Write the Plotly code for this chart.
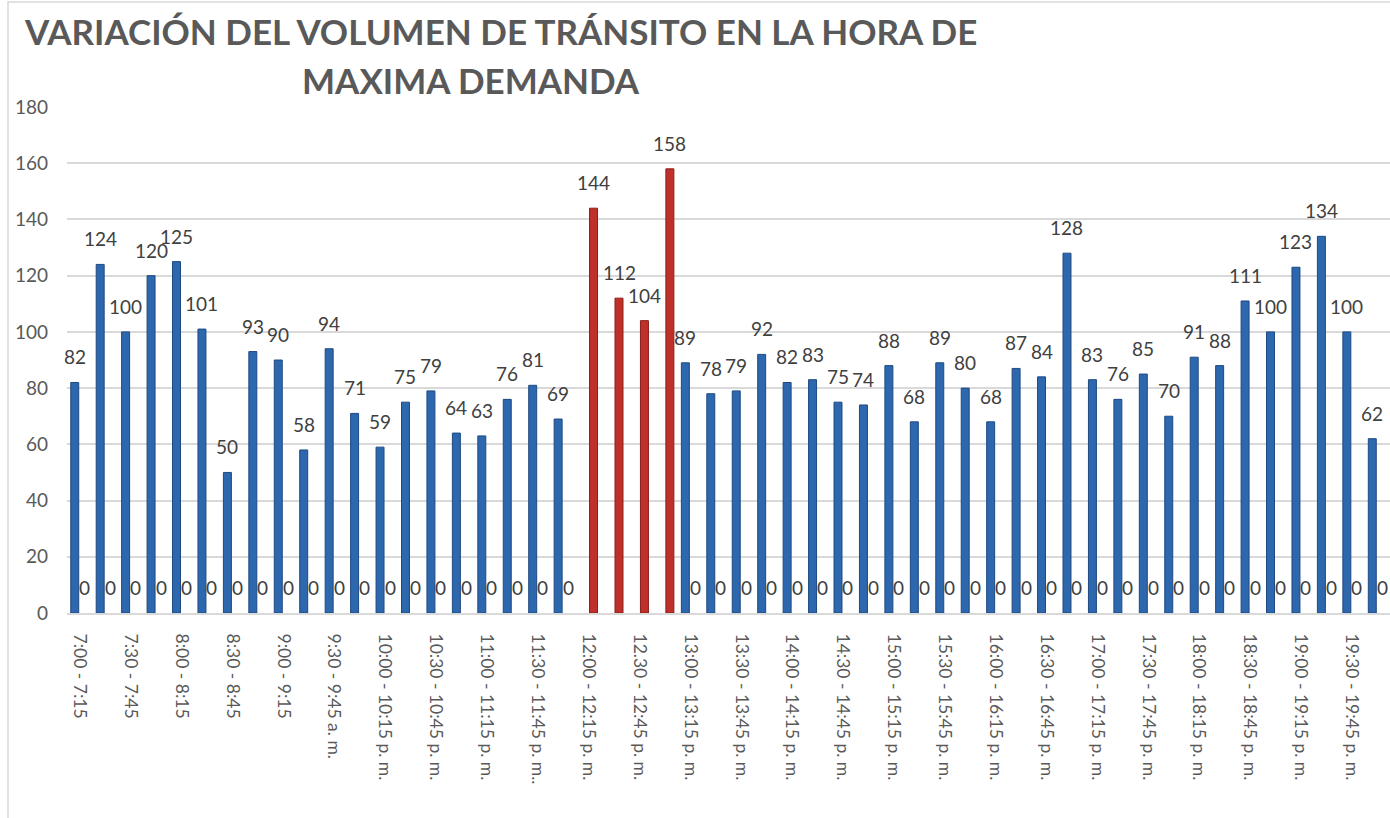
import plotly.graph_objects as go

categories = [
    "7:00 - 7:15", "7:15 - 7:30", "7:30 - 7:45", "7:45 - 8:00",
    "8:00 - 8:15", "8:15 - 8:30", "8:30 - 8:45", "8:45 - 9:00",
    "9:00 - 9:15", "9:15 - 9:30", "9:30 - 9:45 a. m.", "9:45 - 10:00 a. m.",
    "10:00 - 10:15 p. m.", "10:15 - 10:30 p. m.", "10:30 - 10:45 p. m.", "10:45 - 11:00 p. m.",
    "11:00 - 11:15 p. m.", "11:15 - 11:30 p. m.", "11:30 - 11:45 p. m..", "11:45 - 12:00 p. m.",
    "12:00 - 12:15 p. m.", "12:15 - 12:30 p. m.", "12.30 - 12:45 p. m.", "12:45 - 13:00 p. m.",
    "13:00 - 13:15 p. m.", "13:15 - 13:30 p. m.", "13:30 - 13:45 p. m.", "13:45 - 14:00 p. m.",
    "14:00 - 14:15 p. m.", "14:15 - 14:30 p. m.", "14:30 - 14:45 p. m.", "14:45 - 15:00 p. m.",
    "15:00 - 15:15 p. m.", "15:15 - 15:30 p. m.", "15:30 - 15:45 p. m.", "15:45 - 16:00 p. m.",
    "16:00 - 16:15 p. m.", "16:15 - 16:30 p. m.", "16:30 - 16:45 p. m.", "16:45 - 17:00 p. m.",
    "17:00 - 17:15 p. m.", "17:15 - 17:30 p. m.", "17:30 - 17:45 p. m.", "17:45 - 18:00 p. m.",
    "18:00 - 18:15 p. m.", "18:15 - 18:30 p. m.", "18:30 - 18:45 p. m.", "18:45 - 19:00 p. m.",
    "19:00 - 19:15 p. m.", "19:15 - 19:30 p. m.", "19:30 - 19:45 p. m.", "19:45 - 20:00 p. m.",
]

# Regular intervals (blue series); None where the peak-hour series applies
volumen = [
    82, 124, 100, 120, 125, 101, 50, 93, 90, 58,
    94, 71, 59, 75, 79, 64, 63, 76, 81, 69,
    None, None, None, None, 89, 78, 79, 92, 82, 83,
    75, 74, 88, 68, 89, 80, 68, 87, 84, 128,
    83, 76, 85, 70, 91, 88, 111, 100, 123, 134,
    100, 62,
]

# Peak-hour series (red); 0 elsewhere
hora_maxima = [
    0, 0, 0, 0, 0, 0, 0, 0, 0, 0,
    0, 0, 0, 0, 0, 0, 0, 0, 0, 0,
    144, 112, 104, 158, 0, 0, 0, 0, 0, 0,
    0, 0, 0, 0, 0, 0, 0, 0, 0, 0,
    0, 0, 0, 0, 0, 0, 0, 0, 0, 0,
    0, 0,
]

tick_categories = categories[::2]
tick_labels = [
    "7:00 - 7:15", "7:30 - 7:45", "8:00 - 8:15", "8:30 - 8:45", "9:00 - 9:15",
    "9:30 - 9:45 a. m.", "10:00 - 10:15 p. m.", "10:30 - 10:45 p. m.", "11:00 - 11:15 p. m.",
    "11:30 - 11:45 p. m..", "12:00 - 12:15 p. m.", "12.30 - 12:45 p. m.", "13:00 - 13:15 p. m.",
    "13:30 - 13:45 p. m.", "14:00 - 14:15 p. m.", "14:30 - 14:45 p. m.", "15:00 - 15:15 p. m.",
    "15:30 - 15:45 p. m.", "16:00 - 16:15 p. m.", "16:30 - 16:45 p. m.", "17:00 - 17:15 p. m.",
    "17:30 - 17:45 p. m.", "18:00 - 18:15 p. m.", "18:30 - 18:45 p. m.", "19:00 - 19:15 p. m.",
    "19:30 - 19:45 p. m.",
]

title_line1 = "VARIACIÓN DEL VOLUMEN DE TRÁNSITO EN LA HORA DE"
title_line2 = "MAXIMA DEMANDA"

BLUE = "#2D67AE"
BLUE_EDGE = "#1E4A82"
RED = "#C0302B"
RED_EDGE = "#8A1E1A"
TEXT = "#404040"
AXIS_TEXT = "#595959"
GRID = "#D9D9D9"
FONT = "Lato, 'Open Sans', sans-serif"

fig = go.Figure()
fig.add_trace(go.Bar(
    x=categories, y=volumen, name="Volumen",
    marker=dict(color=BLUE, line=dict(color=BLUE_EDGE, width=1)),
    hoverinfo="x+y",
))
fig.add_trace(go.Bar(
    x=categories, y=hora_maxima, name="Hora de máxima demanda",
    marker=dict(color=RED, line=dict(color=RED_EDGE, width=[1 if v else 0 for v in hora_maxima])),
    hoverinfo="x+y",
))

annotations = []
for c, v in zip(categories, volumen):
    if v is not None:
        annotations.append(dict(x=c, y=v, xref="x", yref="y", text=str(v), showarrow=False,
                                xanchor="center", yanchor="bottom", xshift=-5, yshift=12,
                                font=dict(family=FONT, size=19, color=TEXT)))
for c, v in zip(categories, hora_maxima):
    if v is not None:
        annotations.append(dict(x=c, y=v, xref="x", yref="y", text=str(v), showarrow=False,
                                xanchor="center", yanchor="bottom", xshift=5, yshift=12,
                                font=dict(family=FONT, size=19, color=TEXT)))

W, H = 1390, 818
L, R, T, B = 67, 0, 107, 205
pw, ph = W - L - R, H - T - B

# Title lines (pixel centres converted to paper coordinates)
for txt, cx, cy in [(title_line1, 500, 31), (title_line2, 471, 80)]:
    annotations.append(dict(x=(cx - L) / pw, y=(H - B - cy) / ph, xref="paper", yref="paper",
                            text=txt, showarrow=False, xanchor="center", yanchor="middle",
                            font=dict(family=FONT, size=35, color=AXIS_TEXT, weight="bold")))

fig.update_layout(
    width=W, height=H,
    margin=dict(l=L, r=R, t=T, b=B, pad=0),
    paper_bgcolor="white", plot_bgcolor="white",
    barmode="group", bargap=0.216, bargroupgap=0.2,
    showlegend=False,
    annotations=annotations,
    font=dict(family=FONT, color=AXIS_TEXT),
    shapes=[dict(type="rect", xref="paper", yref="paper",
                 x0=(8 - L) / pw, x1=(W + 10 - L) / pw,
                 y0=(H - B - (H + 10)) / ph, y1=(H - B - 2) / ph,
                 line=dict(color=GRID, width=1.5), fillcolor="rgba(0,0,0,0)", layer="below")],
)
fig.update_xaxes(
    type="category", categoryorder="array", categoryarray=categories,
    range=[-0.5, len(categories) - 0.5],
    tickmode="array", tickvals=tick_categories, ticktext=tick_labels,
    tickangle=90, tickfont=dict(family=FONT, size=17.5, color=AXIS_TEXT),
    showline=True, linecolor=GRID, linewidth=2, showgrid=False, ticks="",
    ticklabelstandoff=15,
)
fig.update_yaxes(
    range=[0, 180], tickmode="linear", tick0=0, dtick=20,
    showgrid=True, gridcolor=GRID, gridwidth=1.5, zeroline=False,
    tickfont=dict(family=FONT, size=19, color=AXIS_TEXT), ticks="",
    ticklabelstandoff=18,
)

fig.write_html("out.html", config={"displayModeBar": False},
               post_script="document.body.style.margin='0px';")
